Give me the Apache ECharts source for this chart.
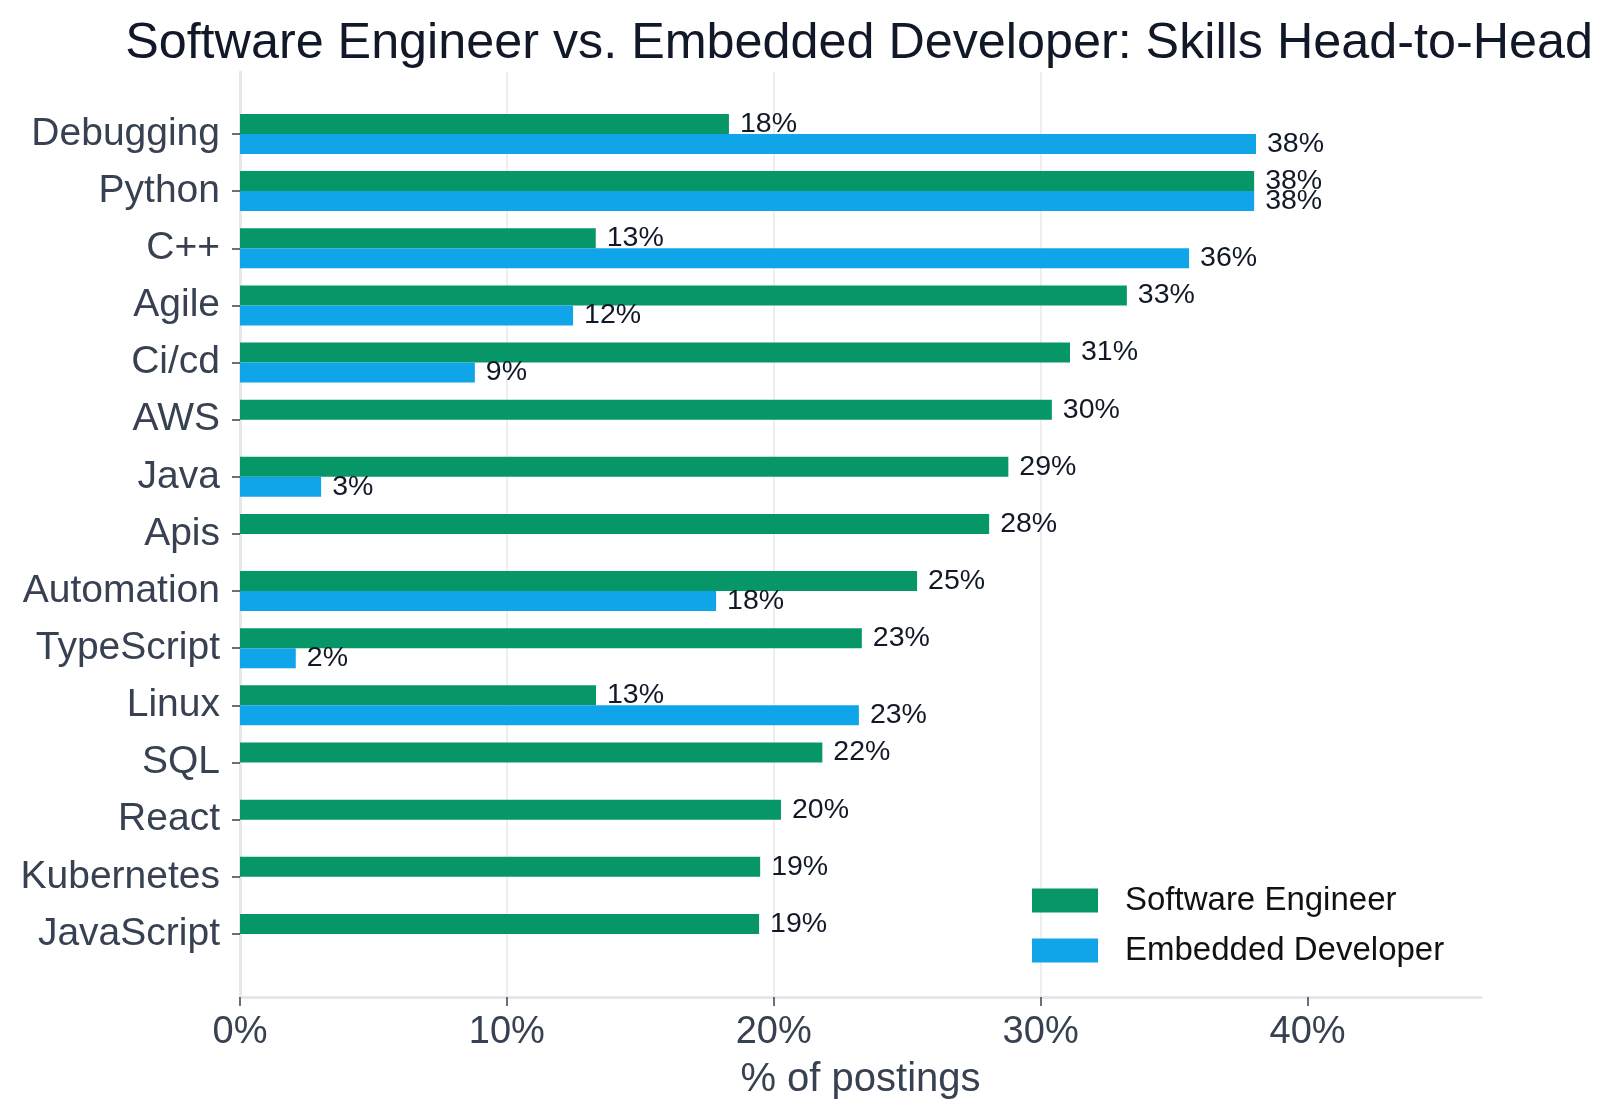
<!DOCTYPE html>
<html>
<head>
<meta charset="utf-8">
<script src="https://cdn.jsdelivr.net/npm/echarts@6/dist/echarts.min.js"></script>
<style>
  html, body { margin: 0; padding: 0; background: #fff; }
  #chart { width: 1613px; height: 1119px; }
</style>
</head>
<body>
<div id="chart"></div>
<script>
// skills, top to bottom
const categories = ['Debugging', 'Python', 'C++', 'Agile', 'Ci/cd', 'AWS', 'Java', 'Apis',
  'Automation', 'TypeScript', 'Linux', 'SQL', 'React', 'Kubernetes', 'JavaScript'];
// % of postings
const softwareEngineer = [18.32, 38.0, 13.33, 33.23, 31.10, 30.42, 28.79, 28.07, 25.37, 23.30, 13.34, 21.82, 20.27, 19.49, 19.45];
const embeddedDeveloper = [38.07, 38.0, 35.56, 12.48, 8.80, null, 3.04, null, 17.84, 2.09, 23.19, null, null, null, null];
const xTicks = [0, 10, 20, 30, 40];
const xMax = 46.5;

const font = 'Liberation Sans, Arial, sans-serif';
const chart = echarts.init(document.getElementById('chart'));

const barLabel = {
  show: true,
  position: 'right',
  distance: 11,
  color: '#111827',
  fontSize: 28.5,
  fontFamily: font,
  formatter: function (p) { return Math.round(p.value) + '%'; }
};

chart.setOption({
  backgroundColor: '#fff',
  animation: false,
  title: {
    text: 'Software Engineer vs. Embedded Developer: Skills Head-to-Head',
    left: 854,
    top: 14,
    textAlign: 'center',
    textStyle: { color: '#111827', fontSize: 50.3, fontWeight: 'normal', fontFamily: font }
  },
  legend: {
    orient: 'vertical',
    left: 1027,
    top: 879,
    itemWidth: 66,
    itemHeight: 24,
    itemGap: 17,
    icon: 'rect',
    textStyle: { color: '#111', fontSize: 33, fontFamily: font, padding: [0, 0, 0, 22] },
    data: ['Software Engineer', 'Embedded Developer']
  },
  grid: [
    // frame: axis lines, split lines, x labels
    { left: 240, top: 72, width: 1241, height: 925 },
    // bars
    { left: 240, top: 105.4, width: 1241, height: 857.1 }
  ],
  xAxis: [
    {
      gridIndex: 0,
      type: 'value',
      min: 0,
      max: xMax,
      interval: 10,
      name: '% of postings',
      nameLocation: 'middle',
      nameGap: 63,
      nameTextStyle: { color: '#374151', fontSize: 40, fontFamily: font },
      axisLine: { show: true, lineStyle: { color: '#e5e7eb', width: 3 } },
      axisTick: { show: true, customValues: xTicks, length: 9, lineStyle: { color: '#374151', width: 1.5 } },
      axisLabel: {
        customValues: xTicks,
        margin: 17,
        color: '#374151',
        fontSize: 38,
        fontFamily: font,
        formatter: '{value}%'
      },
      splitLine: { show: true, showMaxLine: false, lineStyle: { color: '#eeeef0', width: 2 } }
    },
    {
      gridIndex: 1,
      type: 'value',
      min: 0,
      max: xMax,
      show: false
    }
  ],
  yAxis: [
    {
      gridIndex: 0,
      type: 'value',
      min: 0,
      max: 1,
      axisLine: { show: true, lineStyle: { color: '#e5e7eb', width: 3 } },
      axisTick: { show: false },
      axisLabel: { show: false },
      splitLine: { show: false }
    },
    {
      gridIndex: 1,
      type: 'category',
      inverse: true,
      data: categories,
      axisLine: { show: false },
      axisTick: { show: true, alignWithLabel: true, length: 8, lineStyle: { color: '#374151', width: 1.5 } },
      axisLabel: { margin: 20, color: '#374151', fontSize: 39, fontFamily: font, padding: [6, 0, 0, 0] }
    }
  ],
  series: [
    {
      name: 'Software Engineer',
      type: 'bar',
      xAxisIndex: 1,
      yAxisIndex: 1,
      barWidth: 20,
      barGap: '0%',
      itemStyle: { color: '#069668' },
      label: barLabel,
      data: softwareEngineer
    },
    {
      name: 'Embedded Developer',
      type: 'bar',
      xAxisIndex: 1,
      yAxisIndex: 1,
      barWidth: 20,
      barGap: '0%',
      itemStyle: { color: '#10a5e8' },
      label: barLabel,
      data: embeddedDeveloper
    }
  ]
});
</script>
</body>
</html>
